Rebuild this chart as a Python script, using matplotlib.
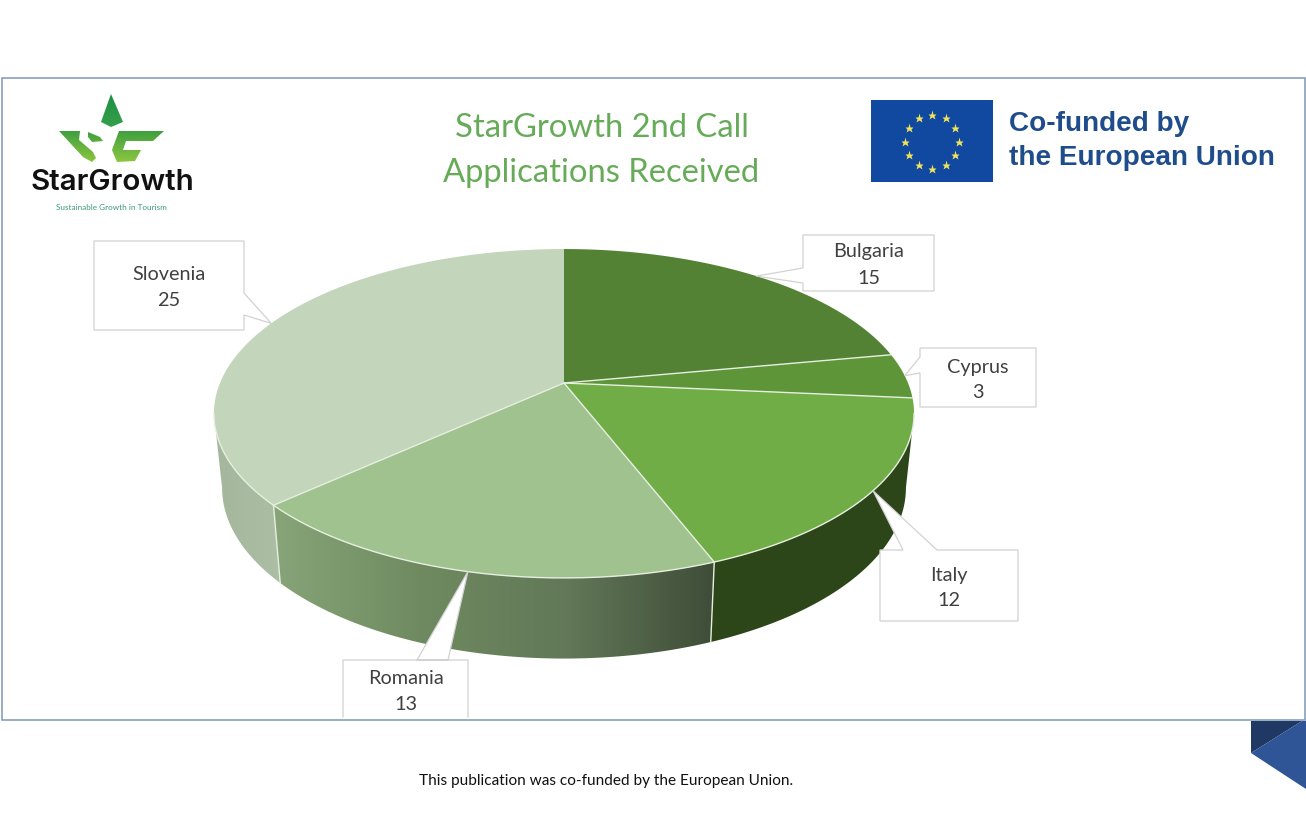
import matplotlib
matplotlib.use("Agg")
import matplotlib.pyplot as plt
import numpy as np
from matplotlib.colors import LinearSegmentedColormap
from matplotlib.patches import Polygon, Rectangle

countries = ["Bulgaria", "Cyprus", "Italy", "Romania", "Slovenia"]
applications = [15, 3, 12, 13, 25]

top_colors = ["#548235", "#5f9539", "#70ad47", "#a0c28f", "#c3d5ba"]

title_lines = ["StarGrowth 2nd Call", "Applications Received"]
eu_lines = ["Co-funded by", "the European Union"]
footer = "This publication was co-funded by the European Union."

# pie geometry, in pixels of the slide
CX = 564
P = 0.1854
TOP_FACE = (383, 344, 158.8)
LOW_FACE = (456, 336, 165)

# label boxes: left, top, right, bottom and where the pointer leaves the box
boxes = {
    "Bulgaria": ((803, 235, 934, 291), (803, 268), (803, 283)),
    "Cyprus": ((920, 348, 1036, 407), (920, 357), (920, 373)),
    "Italy": ((880, 550, 1018, 621), (937, 550), (903, 550)),
    "Romania": ((343, 660, 468, 717), (417, 660), (448, 660)),
    "Slovenia": ((94, 241, 244, 330), (244, 293), (244, 315)),
}
label_y = {"Bulgaria": 252, "Cyprus": 367, "Italy": 575, "Romania": 678, "Slovenia": 275}


def project(deg, face):
    """degrees clockwise from the top of the pie -> slide pixels"""
    cy, b, a = face
    t = np.radians(deg)
    u, v = np.sin(t), np.cos(t)
    w = 1 + P * v
    return CX + b * u / w, cy - a * v / w


def rim(start, stop, face):
    n = max(int(abs(stop - start) * 2), 2)
    x, y = project(np.linspace(start, stop, n), face)
    return np.column_stack([x, y])


def gradient_poly(ax, pts, colors, vertical=False, zorder=2):
    pts = np.asarray(pts)
    cmap = LinearSegmentedColormap.from_list("g", colors)
    grad = np.linspace(0, 1, 256)
    grad = grad.reshape(-1, 1) if vertical else grad.reshape(1, -1)
    x0, x1, y0, y1 = pts[:, 0].min(), pts[:, 0].max(), pts[:, 1].min(), pts[:, 1].max()
    im = ax.imshow(grad, cmap=cmap, extent=(x0, x1, y1, y0), aspect="auto", zorder=zorder)
    clip = Polygon(pts, closed=True, transform=ax.transData, fc="none", ec="none")
    ax.add_patch(clip)
    im.set_clip_path(clip)


fig = plt.figure(figsize=(13.06, 8.18), dpi=100)
ax = fig.add_axes([0, 0, 1, 1])

# slide frame
ax.add_patch(Rectangle((2, 78), 1303, 642, fc="white", ec="#7d97b3", lw=1.1, zorder=1))

# pie
edges = np.cumsum([0] + applications) / sum(applications) * 360
seam = "#e6eee0"

# the wall is only visible between the widest points of the ellipse
widest = 90 + np.degrees(np.arcsin(P))
side_specs = [
    (widest, edges[3], ["#2d4619", "#2d4619"]),
    (edges[3], edges[4], ["#87a579", "#6f8a60", "#627858", "#3f4d38"]),
    (edges[4], 360 - widest, ["#a4b69c", "#acbfa4"]),
]
for start, stop, colors in side_specs:
    poly = np.vstack([rim(start, stop, TOP_FACE), rim(stop, start, LOW_FACE)])
    gradient_poly(ax, poly, colors)
for deg in [edges[3], edges[4]]:
    x0, y0 = project(deg, TOP_FACE)
    x1, y1 = project(deg, LOW_FACE)
    ax.plot([x0, x1], [y0, y1], color=seam, lw=1, zorder=3)

for i, name in enumerate(countries):
    arc = rim(edges[i], edges[i + 1], TOP_FACE)
    wedge = np.vstack([[CX, TOP_FACE[0]], arc])
    ax.add_patch(Polygon(wedge, closed=True, fc=top_colors[i], ec="none", zorder=4))
for deg in edges[1:-1]:
    x0, y0 = project(deg, TOP_FACE)
    ax.plot([CX, x0], [TOP_FACE[0], y0], color=seam, lw=1, zorder=4)
front = rim(widest, 360 - widest, TOP_FACE)
ax.plot(front[:, 0], front[:, 1], color=seam, lw=1, zorder=4)

# callouts, the pointer tip sits on the middle of the slice rim
for i, name in enumerate(countries):
    tip = project((edges[i] + edges[i + 1]) / 2, TOP_FACE)
    (l, t, r, b), p0, p1 = boxes[name]
    tip = (float(tip[0]), float(tip[1]))
    if p0[1] == t:
        outline = [(l, t), p1, tip, p0, (r, t), (r, b), (l, b)]
    elif p0[0] == l:
        outline = [(l, t), (r, t), (r, b), (l, b), p1, tip, p0]
    else:
        outline = [(l, t), (r, t), p0, tip, p1, (r, b), (l, b)]
    if name == "Romania":
        # box is cut by the frame, no bottom edge
        ax.add_patch(Polygon(outline, closed=True, fc="white", ec="none", zorder=5))
        ax.plot(*zip(*([outline[-1]] + outline[:-1])), color="#d2d2d2", lw=0.9, zorder=5)
    else:
        ax.add_patch(Polygon(outline, closed=True, fc="white", ec="#d2d2d2", lw=0.9, zorder=5))
    xm = (l + r) / 2
    ym = label_y[name]
    ax.text(xm, ym, name, ha="center", va="center", fontsize=14.3, family="Lato",
            color="#404040", zorder=6)
    ax.text(xm, ym + 26, str(applications[i]), ha="center", va="center", fontsize=14.3,
            family="Lato", color="#404040", zorder=6)

# title
for y, line in zip([128, 173], title_lines):
    ax.text(601.5, y, line, ha="center", va="center", fontsize=23.6, family="Lato", color="#66ab58")

# StarGrowth logo
gradient_poly(ax, [(111, 94), (123, 122), (111, 127), (101, 122)], ["#1f8f45", "#35a04a"], vertical=True)
green = ["#3f9f3f", "#8cc63f"]
gradient_poly(ax, [(59, 131), (80, 131), (79, 140), (93, 152), (96, 158), (92, 162), (83, 157)],
              green, vertical=True)
gradient_poly(ax, [(88, 132), (100, 137), (103, 141), (92, 142), (88, 137)],
              ["#3f9f3f", "#5aae3f"], vertical=True)
gradient_poly(ax, [(119, 131), (164, 131), (153, 141), (126, 141), (123, 150), (141, 150),
                   (135, 161), (117, 162), (112, 150)], green, vertical=True)
ax.text(112, 182, "StarGrowth", ha="center", va="center", fontsize=21.3, family="Inter",
        fontweight="semibold", color="#111111")
ax.text(111.5, 207, "Sustainable Growth in Tourism", ha="center", va="center", fontsize=5.9,
        family="Lato", color="#3a9a78")

# EU flag
ax.add_patch(Rectangle((871, 100), 122, 82, fc="#10499f", ec="none", zorder=2))
star_t = np.arange(12) * np.pi / 6
ax.plot(932 + 27 * np.sin(star_t), 141.5 - 27 * np.cos(star_t), ls="none", marker="*", ms=6.5,
        mfc="#f2e35c", mec="none", zorder=3)
for y, line in zip([124, 158], eu_lines):
    ax.text(1009, y, line, ha="left", va="center", fontsize=20.1, family="Liberation Sans",
            fontweight="bold", color="#1f4c8a")

# footer and corner decoration
ax.text(606.5, 781, footer, ha="center", va="center", fontsize=11.1, family="Lato", color="#111111")
ax.add_patch(Polygon([(1251, 721), (1302, 721), (1251, 753)], fc="#1f3864", ec="none", zorder=2))
ax.add_patch(Polygon([(1251, 753), (1302, 721), (1306, 721), (1306, 789)], fc="#2f5597", ec="none", zorder=2))

ax.set_xlim(0, 1306)
ax.set_ylim(818, 0)
ax.axis("off")
fig.savefig("out.png", dpi=100)
